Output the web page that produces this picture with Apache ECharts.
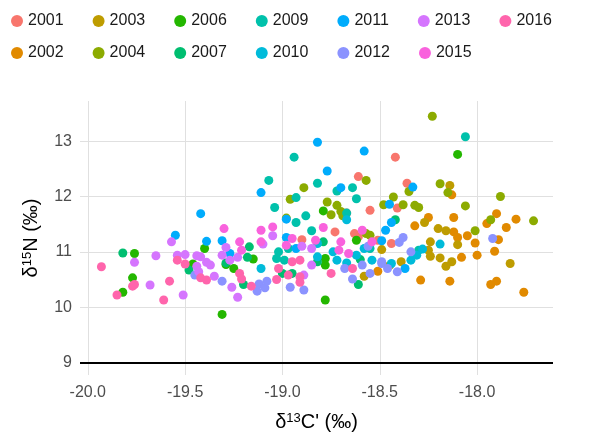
<!DOCTYPE html>
<html>
<head>
<meta charset="utf-8">
<script src="https://cdn.jsdelivr.net/npm/echarts@6/dist/echarts.min.js"></script>
<style>
  html, body { margin: 0; padding: 0; background: #fff; }
  #chart { width: 589px; height: 439px; }
</style>
</head>
<body>
<div id="chart"></div>
<script>
// Isotope values per sampling year: [δ13C', δ15N]
const years = ['2001','2002','2003','2004','2006','2007','2009','2010','2011','2012','2013','2015','2016'];
const colors = ['#F8766D','#E18A00','#BE9C00','#8CAB00','#24B700','#00BE70','#00C1AB','#00BBDA','#00ACFC','#8B93FF','#D575FE','#F962DD','#FF65AC'];

const y2001 = [[-18.61,12.36],[-18.55,11.75],[-18.42,12.71],[-18.36,12.24],[-18.41,11.79],[-18.90,11.22],[-18.73,11.36],[-18.63,11.33],[-18.61,11.27],[-18.51,11.21],[-18.44,11.15],[-18.67,11.70]];
const y2002 = [[-18.13,12.03],[-18.25,11.62],[-18.12,11.62],[-17.90,11.69],[-17.95,11.51],[-17.80,11.59],[-17.85,11.44],[-18.12,11.36],[-18.05,11.29],[-18.10,11.26],[-17.89,11.22],[-18.01,11.16],[-17.91,11.01],[-18.08,10.90],[-18.00,10.94],[-18.32,11.47],[-18.51,10.65],[-18.29,10.49],[-18.14,10.47],[-17.93,10.41],[-17.90,10.47],[-17.76,10.27]];
const y2003 = [[-18.14,12.20],[-18.27,11.53],[-18.20,11.42],[-18.16,11.38],[-18.24,11.18],[-18.10,11.13],[-18.25,11.03],[-18.24,10.92],[-18.19,10.89],[-18.13,10.82],[-18.16,10.74],[-17.83,10.79],[-18.58,10.56],[-18.45,10.75],[-18.39,10.82],[-18.49,11.04]];
const y2004 = [[-18.23,13.45],[-18.57,12.29],[-18.89,12.16],[-18.96,11.95],[-18.77,11.90],[-18.72,11.84],[-18.48,11.85],[-18.19,12.23],[-18.35,12.09],[-18.15,12.07],[-18.43,11.99],[-17.88,12.00],[-18.38,11.85],[-18.32,11.84],[-18.30,11.80],[-18.06,11.83],[-17.93,11.58],[-17.71,11.56],[-18.01,11.38],[-18.75,11.67],[-18.70,11.73],[-18.69,11.65],[-18.98,11.61],[-18.57,11.33],[-18.55,11.30]];
const y2006 = [[-18.10,12.76],[-18.79,11.74],[-19.76,10.97],[-19.46,10.78],[-19.77,10.53],[-19.82,10.27],[-19.40,11.06],[-19.15,10.87],[-19.29,10.77],[-19.25,10.70],[-19.31,9.87],[-18.78,10.13],[-18.62,11.21],[-18.78,10.88],[-18.78,10.76]];
const y2007 = [[-19.82,10.98],[-19.48,10.67],[-19.17,11.09],[-19.18,10.90],[-19.29,10.80],[-19.20,10.41],[-19.00,10.61],[-18.95,10.61],[-18.61,10.41],[-18.42,11.58],[-18.79,11.18],[-18.60,10.86],[-18.82,10.82]];
const y2009 = [[-18.94,12.71],[-19.07,12.29],[-18.82,12.24],[-18.72,12.10],[-18.64,12.16],[-18.93,11.98],[-18.62,11.96],[-19.04,11.80],[-18.06,13.08],[-18.93,11.53],[-18.88,11.65],[-18.67,11.70],[-18.97,11.06],[-19.02,11.00],[-19.03,10.88],[-18.99,10.85],[-18.85,11.38],[-18.55,11.06],[-18.30,11.03]];
const y2010 = [[-18.67,11.58],[-18.19,11.14],[-18.28,11.05],[-19.11,10.70],[-18.82,11.15],[-18.74,11.00],[-18.58,11.06],[-18.62,10.94],[-18.54,10.85],[-18.82,10.91],[-18.44,10.79],[-18.34,10.85],[-18.31,10.94],[-18.67,10.80],[-18.72,10.85]];
const y2011 = [[-19.42,11.69],[-18.82,12.98],[-18.58,12.82],[-18.77,12.46],[-19.11,12.07],[-18.70,12.16],[-18.45,11.86],[-18.33,12.17],[-19.55,11.30],[-18.98,11.59],[-19.39,11.19],[-19.31,11.20],[-18.98,11.26],[-18.93,11.06],[-19.27,10.97],[-18.44,11.53],[-18.47,11.39],[-18.49,11.20],[-18.37,10.70]];
const y2012 = [[-19.45,10.58],[-19.31,10.47],[-19.12,10.42],[-19.13,10.29],[-19.09,10.35],[-19.08,10.47],[-18.96,10.36],[-18.89,10.31],[-18.64,10.51],[-18.68,10.70],[-18.59,10.76],[-18.55,10.61],[-18.49,10.79],[-18.46,10.70],[-18.41,10.64],[-18.40,11.17],[-18.38,11.26],[-18.56,11.10],[-18.49,10.82],[-18.34,11.00],[-17.92,11.24]];
const y2013 = [[-19.57,11.18],[-19.65,10.93],[-19.76,10.81],[-19.54,10.94],[-19.50,10.95],[-19.44,10.93],[-19.44,10.74],[-19.68,10.40],[-19.51,10.22],[-19.43,10.64],[-19.05,11.29],[-19.29,11.08],[-19.10,11.14],[-18.90,11.10],[-19.31,10.94],[-19.23,10.90],[-19.27,10.85],[-19.39,10.81],[-19.42,10.91],[-19.37,10.76],[-19.35,10.56],[-19.26,10.36],[-19.23,10.18],[-18.89,10.58],[-18.85,10.76],[-18.85,11.06]];
const y2015 = [[-19.30,11.42],[-19.11,11.39],[-19.05,11.45],[-19.22,11.18],[-19.11,11.18],[-18.95,11.24],[-18.79,11.44],[-18.59,11.39],[-18.70,11.18],[-18.54,11.18],[-18.83,11.21],[-18.71,11.03],[-18.66,10.97],[-19.21,11.03],[-18.98,11.12]];
const y2016 = [[-19.93,10.73],[-19.54,10.85],[-19.50,10.78],[-19.77,10.38],[-19.76,10.41],[-19.85,10.22],[-19.58,10.47],[-19.61,10.13],[-19.42,10.53],[-19.39,10.49],[-19.22,10.61],[-19.21,10.51],[-19.16,10.38],[-19.03,10.50],[-19.02,10.70],[-18.97,10.58],[-18.91,10.45],[-18.91,10.55],[-18.95,10.82],[-18.91,10.85],[-18.75,10.61],[-18.64,10.70]];

const seriesData = [y2001,y2002,y2003,y2004,y2006,y2007,y2009,y2010,y2011,y2012,y2013,y2015,y2016];

// Tick positions
const xTicks = [-20.0, -19.5, -19.0, -18.5, -18.0];
const yTicks = [9, 10, 11, 12, 13];

const font = '"Liberation Sans", Arial, sans-serif';
const chart = echarts.init(document.getElementById('chart'), null, { renderer: 'canvas' });

const series = years.map((yr, i) => {
  const s = {
    name: yr,
    type: 'scatter',
    data: seriesData[i],
    symbol: 'circle',
    symbolSize: 9,
    itemStyle: { color: colors[i], opacity: 1 },
    emphasis: { disabled: true }
  };
  if (i === 0) {
    // reference line at δ15N = 9
    s.markLine = {
      silent: true,
      symbol: 'none',
      label: { show: false },
      lineStyle: { color: '#000', width: 2, type: 'solid' },
      data: [{ yAxis: 9 }]
    };
  }
  return s;
});

const legendCommon = {
  orient: 'horizontal',
  icon: 'circle',
  itemWidth: 12,
  itemHeight: 12,
  itemGap: 29,
  itemStyle: { borderWidth: 0 },
  textStyle: { fontFamily: font, fontSize: 16, color: '#1a1a1a' },
  selectedMode: false
};

chart.setOption({
  animation: false,
  backgroundColor: '#ffffff',
  color: colors,
  legend: [
    Object.assign({}, legendCommon, { left: 6, top: 8, data: ['2001','2003','2006','2009','2011','2013','2016'] }),
    Object.assign({}, legendCommon, { left: 6, top: 40, data: ['2002','2004','2007','2010','2012','2015'] })
  ],
  grid: { left: 80, right: 36, top: 101, bottom: 64, containLabel: false },
  xAxis: {
    type: 'value',
    min: -20.04,
    max: -17.61,
    name: "{d|δ}{s|13}{d|C' (‰)}",
    nameLocation: 'middle',
    nameGap: 37,
    nameTextStyle: {
      rich: {
        d: { fontFamily: font, fontSize: 20, color: '#000' },
        s: { fontFamily: font, fontSize: 13, color: '#000', verticalAlign: 'top', padding: [0, 0, 8, 0] }
      }
    },
    axisLine: { show: false },
    axisTick: { show: false, customValues: xTicks },
    axisLabel: {
      customValues: xTicks,
      fontFamily: font, fontSize: 16, color: '#4d4d4d', margin: 10,
      formatter: v => v.toFixed(1)
    },
    splitLine: { show: true, lineStyle: { color: '#e0e0e0', width: 1 } }
  },
  yAxis: {
    type: 'value',
    min: 8.775,
    max: 13.725,
    name: '{d|δ}{s|15}{d|N (‰)}',
    nameLocation: 'middle',
    nameRotate: 90,
    nameGap: 38,
    nameTextStyle: {
      rich: {
        d: { fontFamily: font, fontSize: 20, color: '#000' },
        s: { fontFamily: font, fontSize: 13, color: '#000', padding: [0, 0, 8, 0] }
      }
    },
    axisLine: { show: false },
    axisTick: { show: false, customValues: yTicks },
    axisLabel: {
      customValues: yTicks,
      fontFamily: font, fontSize: 16, color: '#4d4d4d', margin: 8
    },
    splitLine: { show: true, lineStyle: { color: '#e0e0e0', width: 1 } }
  },
  series: series
});
</script>
</body>
</html>
